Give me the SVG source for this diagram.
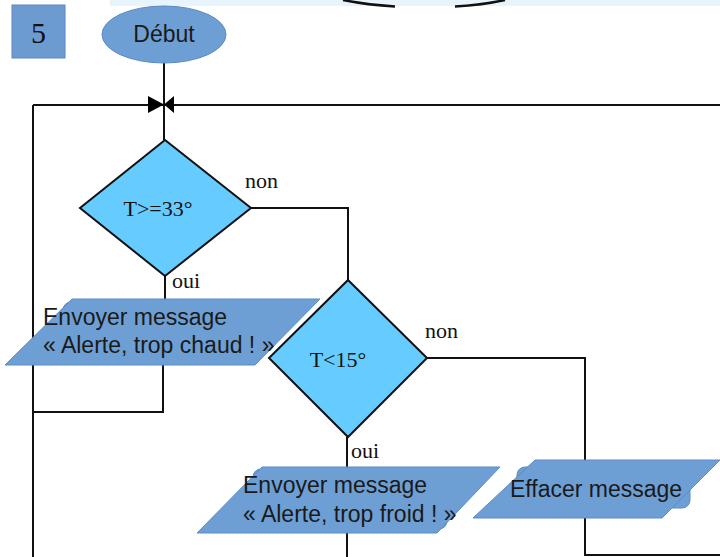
<svg xmlns="http://www.w3.org/2000/svg" width="720" height="557" viewBox="0 0 720 557">
<style>
.ln{fill:none;stroke:#111;stroke-width:2}
.dia{fill:#66ccff;stroke:#111;stroke-width:2}
.par{fill:#6e9fd4;stroke:#5b8cc8;stroke-width:1}
.sans{font-family:"Liberation Sans",Arial,sans-serif;font-size:23px;fill:#1a1a1a}
.serif{font-family:"Liberation Serif","Times New Roman",serif;font-size:22px;fill:#111}
</style>
<rect x="110" y="0" width="610" height="6" fill="#e8f4fc"/>
<path d="M343,0 Q368,5 395,6.5 M455,6.5 Q482,5 505,0" fill="none" stroke="#111" stroke-width="2.5"/>
<g id="connectors">
<path class="ln" d="M164,63 V140"/>
<path class="ln" d="M33,105 H720"/>
<path class="ln" d="M33,105 V557"/>
<path class="ln" d="M165,276 V300"/>
<path class="ln" d="M163,365 V412 H33"/>
<path class="ln" d="M251,208 H348 V280"/>
<path class="ln" d="M427,358 H585 V555 H720"/>
<path class="ln" d="M347,437 V467 M347,533 V557"/>
<path d="M148,96 L164,104.5 L148,113 Z M174,96 L164,104.5 L174,113 Z" fill="#000"/>
<text class="serif" x="245" y="188">non</text>
<text class="serif" x="172" y="288">oui</text>
<text class="serif" x="425" y="338">non</text>
<text class="serif" x="351" y="458">oui</text>
</g>
<g id="label5">
<rect x="12" y="5" width="53" height="53" fill="#6c9bd2" stroke="#5a88c2" stroke-width="1"/>
<text x="38.5" y="43" text-anchor="middle" style="font-family:'Liberation Serif','Times New Roman',serif;font-size:30px;fill:#111">5</text>
</g>
<g id="debut">
<ellipse cx="164" cy="34.5" rx="62" ry="28.5" fill="#6e9fd4" stroke="#5a8ac6" stroke-width="1"/>
<text class="sans" x="164" y="42" text-anchor="middle">Début</text>
</g>
<g id="d1">
<polygon class="dia" points="165,140 251,208 165,276 80,208"/>
<text class="serif" x="158" y="216" text-anchor="middle">T&gt;=33°</text>
</g>
<g id="d2">
<polygon class="dia" points="348,280 427,358 348,437 269,358"/>
<text class="serif" x="338" y="367" text-anchor="middle">T&lt;15°</text>
</g>
<g id="p1">
<rect class="par" x="63" y="302" width="195" height="61" rx="8"/>
<polygon class="par" points="72,299 320,299 255,365 5,365"/>
<text class="sans" x="43" y="325">Envoyer message</text>
<text class="sans" x="43" y="353">« Alerte, trop chaud ! »</text>
</g>
<g id="p2">
<rect class="par" x="253" y="469" width="194" height="60" rx="8"/>
<polygon class="par" points="262,467 500,467 437,533 197,533"/>
<text class="sans" x="243" y="493">Envoyer message</text>
<text class="sans" x="243" y="522">« Alerte, trop froid ! »</text>
</g>
<g id="p3">
<rect class="par" x="517" y="467" width="173" height="41" rx="8"/>
<polygon class="par" points="535,460 720,460 662,518 473,518"/>
<text class="sans" x="510" y="497">Effacer message</text>
</g>
</svg>
